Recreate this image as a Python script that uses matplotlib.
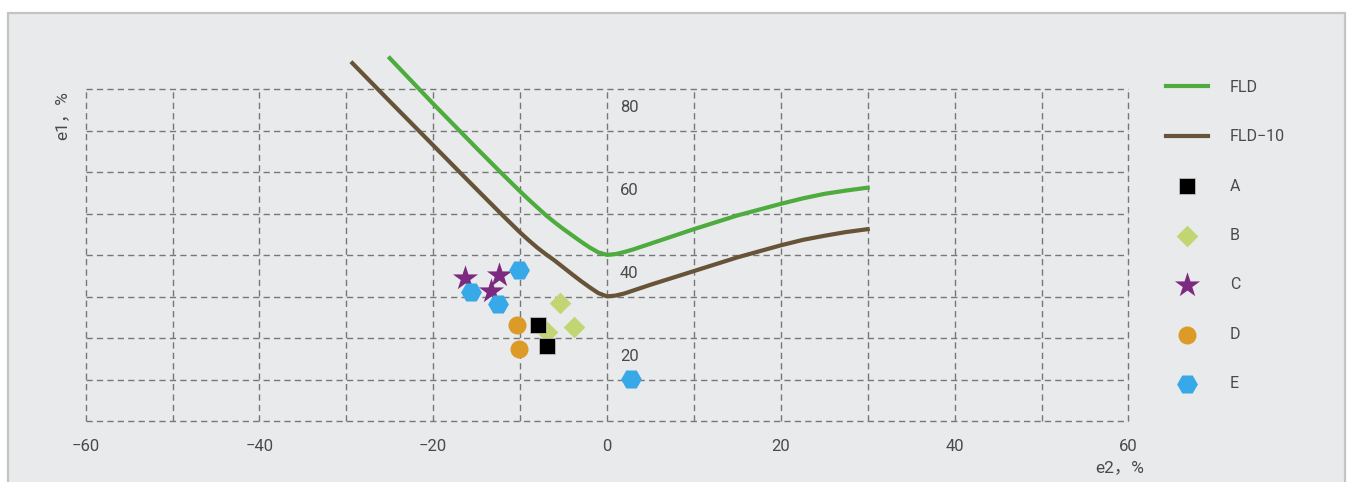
import matplotlib.pyplot as plt
from matplotlib.patches import Rectangle

# FLD curves (e2, e1)
fld_e2 = [-25, -20, -15, -12, -10, -9, -8, -7, -6, -5, -4, -3, -2, -1, 0, 1, 2, 3, 5, 10, 15, 20, 22.5, 25, 27.5, 30]
fld_e1 = [87.5, 76.5, 65.8, 59.5, 55.4, 53.4, 51.5, 49.6, 47.9, 46.3, 44.8, 43.3, 41.9, 40.7, 40.1, 40.3, 40.8, 41.4, 42.8, 46.3, 49.6, 52.4, 53.7, 54.8, 55.6, 56.3]
fld10_e2 = [-29.3, -25, -20, -15, -12, -10, -9, -8, -7, -6, -4, -3, -2, -1, 0, 1, 2, 3, 5, 10, 15, 20, 22.5, 25, 27.5, 30]
fld10_e1 = [86.3, 77.1, 66.5, 55.9, 49.6, 45.5, 43.6, 41.8, 40.2, 38.7, 35.4, 33.8, 32.3, 30.9, 30.1, 30.3, 30.8, 31.5, 32.9, 36.2, 39.5, 42.4, 43.7, 44.7, 45.6, 46.3]

# measured points
a_e2 = [-7.9, -6.9]
a_e1 = [23.1, 18.1]
b_e2 = [-5.4, -3.8, -6.9]
b_e1 = [28.6, 22.7, 21.4]
c_e2 = [-16.3, -12.4, -13.3]
c_e1 = [34.5, 35.3, 31.4]
d_e2 = [-10.3, -10.1]
d_e1 = [23.1, 17.5]
e_e2 = [-10.1, -15.7, -12.5, 2.8]
e_e1 = [36.5, 31.2, 28.2, 10.1]

x_ticks = [-60, -40, -20, 0, 20, 40, 60]
y_marks = [20, 40, 60, 80]

plt.rcParams['font.family'] = ['Roboto', 'Noto Sans CJK SC', 'DejaVu Sans']
txt_color = '#4a4a4a'

fig = plt.figure(figsize=(13.54, 4.82), dpi=100)
fig.patch.set_facecolor('white')
# grey panel behind the chart
panel = Rectangle((8 / 1354, -0.1), 1337 / 1354, 1 - 13 / 482 + 0.1,
                  transform=fig.transFigure, facecolor='#e9eaec',
                  edgecolor='#c4c4c4', linewidth=1.6, zorder=-10)
fig.patches.append(panel)

ax = fig.add_axes([85.6 / 1354, 60.7 / 482, 1042.8 / 1354, 373.5 / 482])
ax.set_zorder(1)
ax.set_facecolor('none')
ax.set_xlim(-60, 60)
ax.set_ylim(0, 90)
for s in ax.spines.values():
    s.set_visible(False)

# dashed grid, only inside 0..80
grid_kw = dict(color='#777777', linewidth=1.0, linestyle=(0, (4.5, 3)), zorder=1, clip_on=False)
ax.vlines(range(-60, 61, 10), 0, 80, **grid_kw)
ax.hlines(range(0, 81, 10), -60, 60, **grid_kw)

ax.plot(fld_e2, fld_e1, color='#4eab3e', linewidth=3, label='FLD', zorder=2, clip_on=False)
ax.plot(fld10_e2, fld10_e1, color='#665338', linewidth=3, label='FLD\u221210', zorder=2, clip_on=False)

ax.scatter(a_e2, a_e1, marker='s', s=11 ** 2, color='black', edgecolors='#bdbdbd', linewidths=0.6, label='A', zorder=4)
ax.scatter(b_e2, b_e1, marker='D', s=11 ** 2, color='#c1d672', linewidths=0, label='B', zorder=3)
ax.scatter(c_e2, c_e1, marker='*', s=19 ** 2, color='#7b2a80', linewidths=0, label='C', zorder=3)
ax.scatter(d_e2, d_e1, marker='o', s=13 ** 2, color='#dc9a26', linewidths=0, label='D', zorder=3)
ax.scatter(e_e2, e_e1, marker='H', s=15 ** 2, color='#37a9e9', linewidths=0, label='E', zorder=5)

# axis ticks / labels
ax.set_xticks(x_ticks)
ax.set_xticklabels(['\u2212%d' % -v if v < 0 else str(v) for v in x_ticks])
ax.tick_params(axis='x', length=0, pad=13, labelsize=12, labelcolor=txt_color)
ax.set_yticks([])
for v in y_marks:
    ax.text(1.5, v - 2.5, str(v), ha='left', va='top', fontsize=12, color=txt_color)

fig.text(62 / 1354, 1 - 116 / 482, 'e1\uff0c%', rotation=90, ha='center', va='center',
         fontsize=12.5, color=txt_color)
fig.text(1120 / 1354, 1 - 468 / 482, 'e2\uff0c%', ha='center', va='center',
         fontsize=12.5, color=txt_color)

leg = fig.legend(loc='upper left', bbox_to_anchor=(1166 / 1354, 1 - 80 / 482),
                 frameon=False, fontsize=11.5, labelspacing=2.15, handlelength=2.6,
                 handletextpad=1.4, borderpad=0, borderaxespad=0, scatterpoints=1)
for t in leg.get_texts():
    t.set_color(txt_color)

fig.savefig('out.png', dpi=100)
